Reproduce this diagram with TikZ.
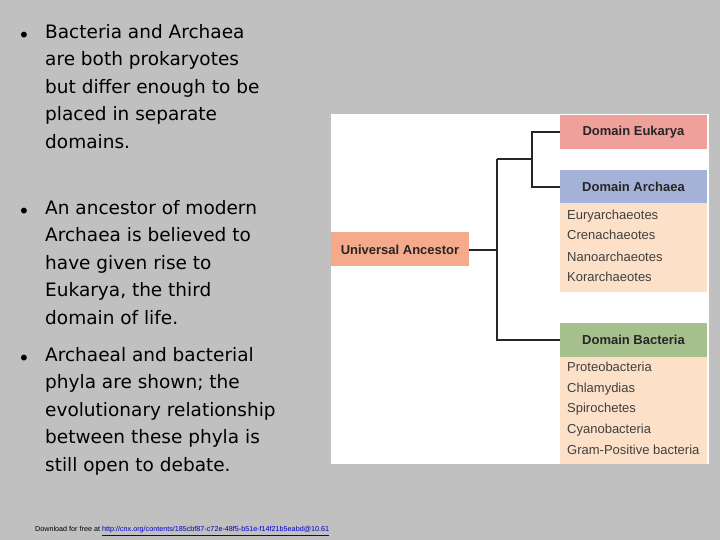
\documentclass[tikz,border=0pt]{standalone}
\usepackage{fontspec}
\setmainfont{DejaVu Sans}
\newfontfamily\arial{Liberation Sans}
\definecolor{bg}{RGB}{192,192,192}
\definecolor{euk}{RGB}{240,160,154}
\definecolor{arc}{RGB}{165,178,215}
\definecolor{bac}{RGB}{165,192,140}
\definecolor{anc}{RGB}{245,170,140}
\definecolor{lst}{RGB}{252,224,200}
\definecolor{lnk}{RGB}{0,0,190}
\begin{document}
\begin{tikzpicture}[x=1pt,y=-1pt,
  hdr/.style={inner sep=0pt,font=\arial\bfseries\fontsize{13}{15}\selectfont,text=black!85},
  item/.style={anchor=west,inner sep=0pt,text height=9pt,text depth=3pt,font=\arial\fontsize{13}{15}\selectfont,text=black!75},
  bul/.style={anchor=north west,inner sep=0pt,align=left,font=\fontsize{18.5}{27.5}\selectfont},
  dot/.style={inner sep=0pt,font=\fontsize{20}{20}\selectfont},
  tree/.style={line width=1.3pt,black!85}]
\fill[bg] (0,0) rectangle (720,540);
\useasboundingbox (0,0) rectangle (720,540);
\fill[white] (331,114) rectangle (709,464);
% boxes
\fill[euk] (560,115) rectangle (707,149);
\node[hdr] (euk) at (633.5,132) {Domain Eukarya};
\fill[lst] (560,203) rectangle (707,292);
\fill[arc] (560,170) rectangle (707,203);
\node[hdr] (arc) at (633.5,187) {Domain Archaea};
\fill[lst] (560,357) rectangle (707,464);
\fill[bac] (560,323) rectangle (707,357);
\node[hdr] (bac) at (633.5,340) {Domain Bacteria};
\fill[anc] (331,232) rectangle (469,266);
\node[hdr] (anc) at (400,250) {Universal Ancestor};
\coordinate (ae) at (469,250);
\coordinate (el) at (560,132);
\coordinate (al) at (560,187);
\coordinate (bl) at (560,340);
\draw[tree] (ae) -- (497,250);
\draw[tree] (497,159) -- (497,340) -- (bl);
\draw[tree] (497,159) -- (532,159);
\draw[tree] (el) -- (532,132) -- (532,187) -- (al);
\foreach \t/\y [count=\i] in {Euryarchaeotes/217,Crenachaeotes/237,Nanoarchaeotes/258,Korarchaeotes/278}
  \node[item] (a\i) at (567,\y) {\t};
\foreach \t/\y [count=\i] in {Proteobacteria/368,Chlamydias/389,Spirochetes/409,Cyanobacteria/430,Gram-Positive bacteria/451}
  \node[item] (b\i) at (567,\y) {\t};
% bullets
\node[dot] (t1) at (24,37) {•};
\node[bul] (p1) at (45,24) {Bacteria and Archaea\\are both prokaryotes\\but differ enough to be\\placed in separate\\domains.};
\node[dot] (t2) at (24,213) {•};
\node[bul] (p2) at (45,200) {An ancestor of modern\\Archaea is believed to\\have given rise to\\Eukarya, the third\\domain of life.};
\node[dot] (t3) at (24,360) {•};
\node[bul] (p3) at (45,347) {Archaeal and bacterial\\phyla are shown; the\\evolutionary relationship\\between these phyla is\\still open to debate.};
\node[anchor=west,inner sep=0pt,font=\arial\fontsize{7.2}{8}\selectfont] (dl) at (35,531) {Download for free at \textcolor{lnk}{\underline{http://cnx.org/contents/185cbf87-c72e-48f5-b51e-f14f21b5eabd@10.61}}};
\end{tikzpicture}
\end{document}
